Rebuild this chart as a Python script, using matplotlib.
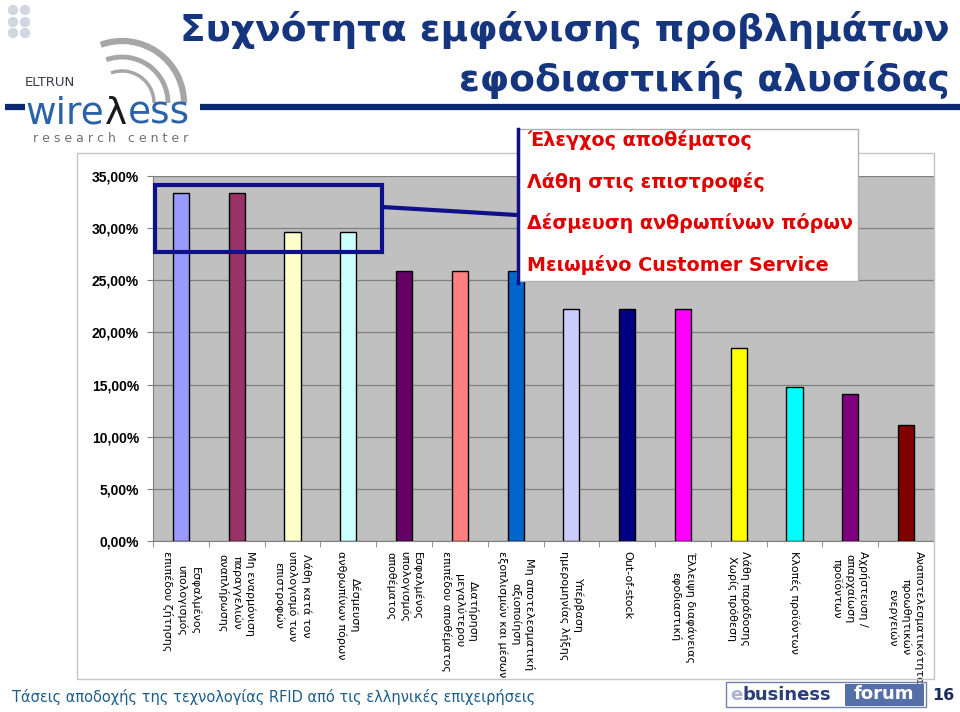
import numpy as np
import matplotlib
matplotlib.use("Agg")
import matplotlib.pyplot as plt
from matplotlib.patches import Rectangle, Arc, Circle
from matplotlib.ticker import FuncFormatter, FixedLocator

# data
categories = [
    "Εσφαλμένος\nυπολογισμός\nεπιπέδου ζήτησης",
    "Μη εναρμόνιση\nπαραγγελιών\nαναπλήρωσης",
    "Λάθη κατά τον\nυπολογισμό των\nεπιστροφών",
    "Δέσμευση\nανθρωπίνων πόρων",
    "Εσφαλμένος\nυπολογισμός\nαποθέματος",
    "Διατήρηση\nμεγαλύτερου\nεπιπέδου αποθέματος",
    "Μη αποτελεσματική\nαξιοποίηση\nεξοπλισμών και μέσων",
    "Υπέρβαση\nημερομηνίας λήξης",
    "Out-of-stock",
    "Έλλειψη διαφάνειας\nεφοδιαστική",
    "Λάθη παράδοσης\nΧωρίς πρόθεση",
    "Κλοπές προϊόντων",
    "Αχρήστευση /\nαπαρχαίωση\nπροϊόντων",
    "Αναποτελεσματικότητα\nπροωθητικών\nενεργειών",
]
values = [33.33, 33.33, 29.63, 29.63, 25.93, 25.93, 25.93,
          22.22, 22.22, 22.22, 18.52, 14.81, 14.1, 11.11]
bar_colors = ["#9999FF", "#993366", "#FFFFCC", "#CCFFFF", "#660066", "#FF8080",
              "#0066CC", "#CCCCFF", "#000080", "#FF00FF", "#FFFF00", "#00FFFF",
              "#800080", "#800000"]
yticks = [0, 5, 10, 15, 20, 25, 30, 35]
callout_lines = ["Έλεγχος αποθέματος", "Λάθη στις επιστροφές",
                 "Δέσμευση ανθρωπίνων πόρων", "Μειωμένο Customer Service"]
title_lines = ["Συχνότητα εμφάνισης προβλημάτων", "εφοδιαστικής αλυσίδας"]
footer = "Τάσεις αποδοχής της τεχνολογίας RFID από τις ελληνικές επιχειρήσεις"

W, H = 960, 712
fig = plt.figure(figsize=(W / 100, H / 100), dpi=100)

# main plot area (pixel box 153..934 x 176..541)
px0, px1, py0, py1 = 153, 934, 176, 541
ax = fig.add_axes([px0 / W, 1 - py1 / H, (px1 - px0) / W, (py1 - py0) / H])
ax.set_facecolor("#C0C0C0")
x = np.arange(len(values))
ax.bar(x, values, width=0.29, color=bar_colors, edgecolor="black", linewidth=1, zorder=3)
ax.set_xlim(-0.5, len(values) - 0.5)
ax.set_ylim(0, 35)
ax.set_yticks(yticks)
ax.yaxis.set_major_formatter(FuncFormatter(lambda v, p: f"{v:.2f}".replace(".", ",") + "%"))
ax.grid(axis="y", color="#808080", linewidth=0.9, zorder=1)
for lab in ax.get_yticklabels():
    lab.set_fontfamily("Liberation Sans")
    lab.set_fontweight("bold")
    lab.set_fontsize(10)
ax.tick_params(axis="y", direction="out", length=4, color="#808080", pad=6)

ax.set_xticks(x)
ax.set_xticklabels(categories, rotation=270, fontsize=8, linespacing=1.35,
                   va="top", ha="center")
for lab in ax.get_xticklabels():
    lab.set_multialignment("center")
ax.tick_params(axis="x", which="major", length=0, pad=7)
ax.xaxis.set_minor_locator(FixedLocator(np.arange(-0.5, len(values), 1.0)))
ax.tick_params(axis="x", which="minor", direction="out", length=4, color="#808080")
ax.spines["top"].set_visible(False)
ax.spines["left"].set_color("#808080")
ax.spines["bottom"].set_color("#808080")
ax.spines["right"].set_color("#a0a0a0")

# highlight box around first four bars
ax.add_patch(Rectangle((-0.46, 27.7), 4.06, 6.4, fill=False, edgecolor="#10108a",
                       linewidth=3, zorder=5, clip_on=False))

# overlay in pixel coordinates for decorations
ov = fig.add_axes([0, 0, 1, 1], zorder=10)
ov.set_xlim(0, W)
ov.set_ylim(H, 0)
ov.axis("off")

# chart area border
ov.add_patch(Rectangle((77, 153), 934 - 77, 679 - 153, fill=False,
                       edgecolor="#c4c4c4", linewidth=1))

# connector + callout
ov.plot([382, 517], [207, 215], color="#10108a", linewidth=3, solid_capstyle="butt")
ov.add_patch(Rectangle((517, 129), 341, 152, facecolor="white", edgecolor="#b0b0b0",
                       linewidth=1))
ov.plot([518, 518], [129, 283], color="#10108a", linewidth=2.5)
for i, t in enumerate(callout_lines):
    ov.text(527, 140 + i * 41.7, t, color="#E00000", fontsize=13.8, fontweight="bold",
            ha="left", va="center")

# title
ov.text(950, 30, title_lines[0], ha="right", va="center", fontsize=27,
        fontweight="bold", color="#16357f")
ov.text(950, 80, title_lines[1], ha="right", va="center", fontsize=27,
        fontweight="bold", color="#16357f")
ov.plot([5, 25], [107, 107], color="#0c2a70", linewidth=4.5, solid_capstyle="butt")
ov.plot([200, 960], [107, 107], color="#0c2a70", linewidth=4.5, solid_capstyle="butt")

# small icon top-left
for cx in (13, 25):
    for cy in (10, 22, 33):
        ov.add_patch(Circle((cx, cy), 4.5, color="#d2d6e0"))

# ELTRUN wireless logo
for r, lw in ((62, 4.5), (46, 3.5), (32, 2.5)):
    ov.add_patch(Arc((122, 103), 2 * r, 2 * r, theta1=250, theta2=360,
                     color="#a6a6a6", linewidth=lw))
ov.text(25, 89, "ELTRUN", fontsize=9.5, color="#3a3a4a", ha="left", va="bottom")
renderer = fig.canvas.get_renderer()
t1 = ov.text(25, 124, "wire", fontsize=27, color="#2a64a6", ha="left", va="baseline")
bb = t1.get_window_extent(renderer)
t2 = ov.text(bb.x1 + 1, 124, "λ", fontsize=27, color="#1a1a1a", ha="left", va="baseline")
bb2 = t2.get_window_extent(renderer)
ov.text(bb2.x1 + 1, 124, "ess", fontsize=27, color="#2a64a6", ha="left", va="baseline")
ov.text(33, 139, "r e s e a r c h   c e n t e r", fontsize=9, color="#707070",
        ha="left", va="center")

# footer
ov.text(12, 697, footer, fontsize=10.5, color="#1b5e8c", ha="left", va="center")

# ebusinessforum logo
ov.add_patch(Rectangle((726, 682), 200, 25, fill=False, edgecolor="#7080a8", linewidth=1))
ov.add_patch(Rectangle((845, 684), 79, 22, facecolor="#5570a8", edgecolor="none"))
ov.text(730, 695, "e", fontsize=13, fontweight="bold", color="#a8b4d0", ha="left", va="center")
ov.text(743, 695, "business", fontsize=13, fontweight="bold", color="#2a3f7a",
        ha="left", va="center")
ov.text(884, 694, "forum", fontsize=13, fontweight="bold", color="white",
        ha="center", va="center")
ov.text(943, 696, "16", fontsize=11.5, fontweight="bold", color="#1a2a5a",
        ha="center", va="center")

fig.savefig("out.png", dpi=100)
